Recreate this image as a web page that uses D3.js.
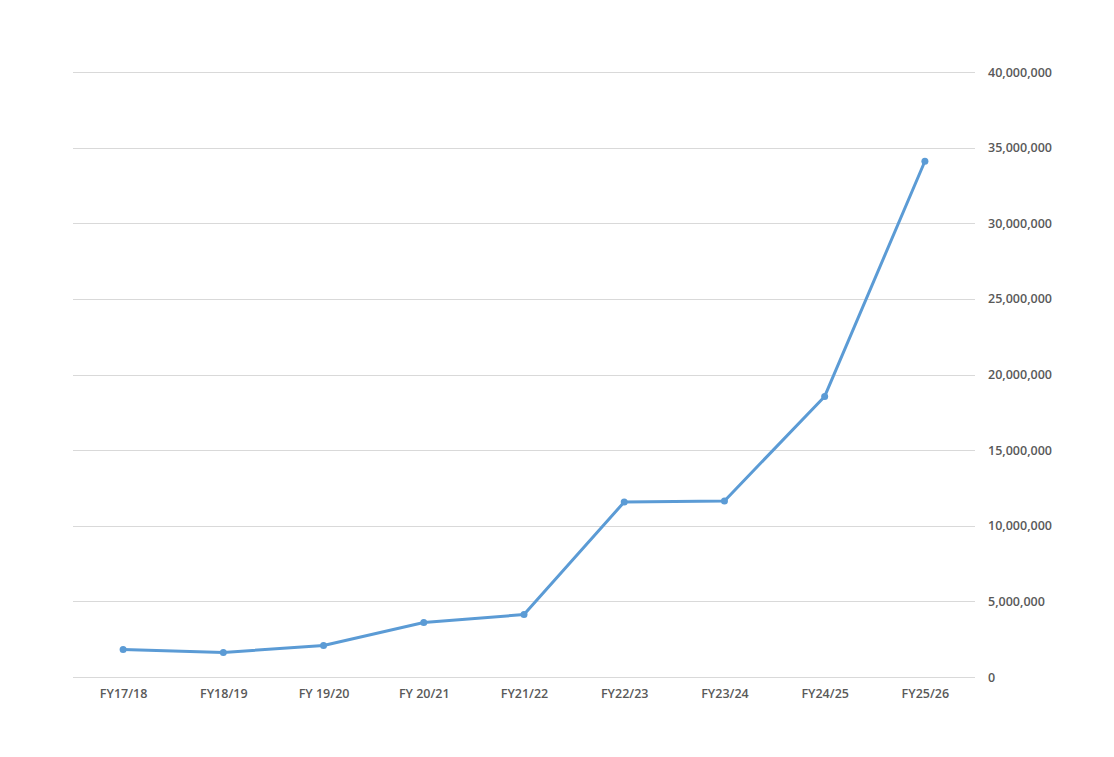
<!DOCTYPE html>
<html><head><meta charset="utf-8">
<script src="https://cdn.jsdelivr.net/npm/d3@7"></script>
<style>body{margin:0;background:#fff}svg{display:block}</style>
</head><body>
<script>
const categories = ["FY17/18","FY18/19","FY 19/20","FY 20/21","FY21/22","FY22/23","FY23/24","FY24/25","FY25/26"];
const values = [1820000,1620000,2080000,3600000,4130000,11570000,11640000,18550000,34100000];
const yTicks = [0,5000000,10000000,15000000,20000000,25000000,30000000,35000000,40000000];

const W=1114,H=757;
const m={left:73,right:139,top:72,bottom:80};
const svg=d3.select("body").append("svg").attr("width",W).attr("height",H);
const x=d3.scalePoint().domain(categories).range([m.left,W-m.right]).padding(0.5);
const y=d3.scaleLinear().domain([0,40000000]).range([H-m.bottom,m.top]);
const fmt=d3.format(",");
const font="'Open Sans', 'DejaVu Sans', sans-serif";

const g=svg.append("g");
g.selectAll("line.grid").data(yTicks).join("line")
 .attr("x1",m.left).attr("x2",W-m.right)
 .attr("y1",d=>Math.round(y(d))+0.5).attr("y2",d=>Math.round(y(d))+0.5)
 .attr("stroke","#d9d9d9").attr("stroke-width",1);

const yAxis=d3.axisRight(y).tickValues(yTicks).tickFormat(fmt).tickSize(0).tickPadding(0);
const ya=svg.append("g").attr("transform",`translate(${W-m.right+13},0)`).call(yAxis);
ya.select(".domain").remove();
ya.selectAll("text").attr("font-family",font).attr("font-size","12.5px").attr("font-weight","600").attr("fill","#595959");

const xAxis=d3.axisBottom(x).tickSize(0).tickPadding(0);
const xa=svg.append("g").attr("transform",`translate(0,${H-m.bottom+12})`).call(xAxis);
xa.select(".domain").remove();
xa.selectAll("text").attr("font-family",font).attr("font-size","12.5px").attr("font-weight","600").attr("fill","#595959");

const line=d3.line().x((d,i)=>x(categories[i])).y(d=>y(d));
svg.append("path").datum(values).attr("d",line).attr("fill","none")
 .attr("stroke","#5b9bd5").attr("stroke-width",3).attr("stroke-linejoin","round");
svg.selectAll("circle.pt").data(values).join("circle")
 .attr("cx",(d,i)=>x(categories[i])).attr("cy",d=>y(d)).attr("r",3.5).attr("fill","#5b9bd5");
</script>
</body></html>
